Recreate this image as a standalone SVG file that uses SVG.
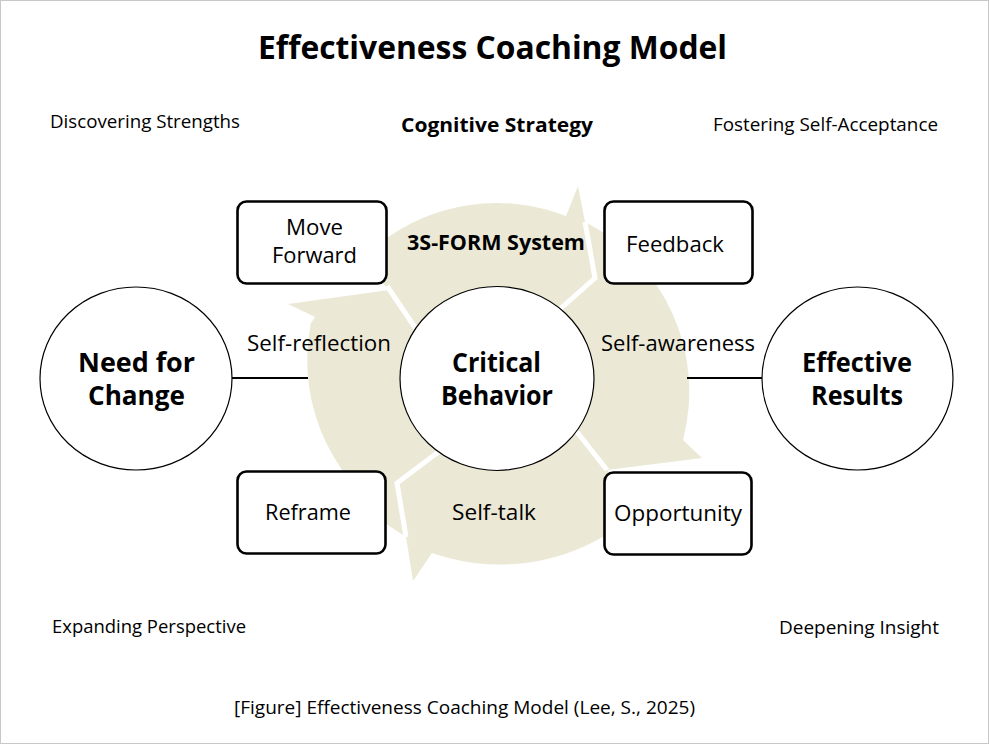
<svg xmlns="http://www.w3.org/2000/svg" width="989" height="744" viewBox="0 0 989 744">
<style>
text{font-family:"Open Sans","Noto Sans","DejaVu Sans",sans-serif;fill:#000}
.t{font-size:18px}
.b{font-weight:bold}
.box{fill:#fff;stroke:#000;stroke-width:2.6}
.nd{fill:#fff;stroke:#000;stroke-width:1.2}
.lbl{font-size:21px}
.big{font-size:26px;font-weight:bold}
.gap{fill:none;stroke:#fff;stroke-width:5;stroke-linejoin:miter}
.con{stroke:#000;stroke-width:2}
</style>
<rect x="0.5" y="0.5" width="988" height="743" fill="#fff" stroke="#c8c8c8" stroke-width="1"/>
<text x="492.5" y="59" font-size="32" class="b" text-anchor="middle" textLength="469" lengthAdjust="spacingAndGlyphs">Effectiveness Coaching Model</text>
<text x="50" y="128" class="t" textLength="190" lengthAdjust="spacingAndGlyphs">Discovering Strengths</text>
<text x="401" y="132" font-size="20" class="b" textLength="192" lengthAdjust="spacingAndGlyphs">Cognitive Strategy</text>
<text x="713" y="131" class="t" textLength="225" lengthAdjust="spacingAndGlyphs">Fostering Self-Acceptance</text>
<text x="52" y="633" class="t" textLength="194" lengthAdjust="spacingAndGlyphs">Expanding Perspective</text>
<text x="779" y="634" class="t" textLength="160" lengthAdjust="spacingAndGlyphs">Deepening Insight</text>
<text x="234" y="714" class="t" textLength="461" lengthAdjust="spacingAndGlyphs">[Figure] Effectiveness Coaching Model (Lee, S., 2025)</text>
<g id="cycle">
<path fill="#EBE9D6" d="M380,243 A190,190 0 0 1 566,216 L578,186 L585,222 A190,190 0 0 1 683,440 L702,458 L607,470 L640,500 L606,535 A205,205 0 0 1 432,553 L413,581 L406,537 L380,520 L354,485 A190,190 0 0 1 311,323 L315,317 L288,304 L389,290 L380,280 Z"/>
<path class="gap" d="M387,286 L414,326 L432,352"/>
<path class="gap" d="M585,222 L595,278 L560,309 L540,327"/>
<path class="gap" d="M607,470 L577,432 L560,412"/>
<path class="gap" d="M406,537 L397,483 L437,453 L455,440"/>
</g>
<g id="connectors">
<line class="con" x1="232" y1="378" x2="308" y2="378"/>
<line class="con" x1="687" y1="378" x2="762" y2="378"/>
</g>
<g id="node-need">
<ellipse class="nd" cx="136" cy="378.5" rx="96" ry="91.5"/>
<text class="big" x="136.5" y="372" text-anchor="middle" textLength="117" lengthAdjust="spacingAndGlyphs">Need for</text>
<text class="big" x="136.5" y="405" text-anchor="middle" textLength="97" lengthAdjust="spacingAndGlyphs">Change</text>
</g>
<g id="node-critical">
<ellipse class="nd" cx="497" cy="378.5" rx="97" ry="92"/>
<text class="big" x="496.5" y="372" text-anchor="middle" textLength="89" lengthAdjust="spacingAndGlyphs">Critical</text>
<text class="big" x="497" y="405" text-anchor="middle" textLength="112" lengthAdjust="spacingAndGlyphs">Behavior</text>
</g>
<g id="node-effective">
<ellipse class="nd" cx="857.5" cy="378.5" rx="95.5" ry="91.5"/>
<text class="big" x="857" y="372" text-anchor="middle" textLength="110" lengthAdjust="spacingAndGlyphs">Effective</text>
<text class="big" x="857" y="405" text-anchor="middle" textLength="92" lengthAdjust="spacingAndGlyphs">Results</text>
</g>
<g id="node-move-forward">
<rect class="box" x="237.5" y="201.5" width="149" height="82" rx="9"/>
<text class="lbl" x="314.5" y="235" text-anchor="middle" textLength="57" lengthAdjust="spacingAndGlyphs">Move</text>
<text class="lbl" x="314.5" y="263" text-anchor="middle" textLength="85" lengthAdjust="spacingAndGlyphs">Forward</text>
</g>
<g id="node-feedback">
<rect class="box" x="604.5" y="201.5" width="148" height="82" rx="9"/>
<text class="lbl" x="675" y="252" text-anchor="middle" textLength="98" lengthAdjust="spacingAndGlyphs">Feedback</text>
</g>
<g id="node-reframe">
<rect class="box" x="237.5" y="471.5" width="148" height="82" rx="9"/>
<text class="lbl" x="308" y="520" text-anchor="middle" textLength="86" lengthAdjust="spacingAndGlyphs">Reframe</text>
</g>
<g id="node-opportunity">
<rect class="box" x="604.5" y="472.5" width="147" height="82" rx="9"/>
<text class="lbl" x="678" y="521" text-anchor="middle" textLength="128" lengthAdjust="spacingAndGlyphs">Opportunity</text>
</g>
<g id="labels">
<text x="407" y="250" font-size="21" class="b" textLength="178" lengthAdjust="spacingAndGlyphs">3S-FORM System</text>
<text class="lbl" x="247" y="351" textLength="144" lengthAdjust="spacingAndGlyphs">Self-reflection</text>
<text class="lbl" x="601" y="351" textLength="154" lengthAdjust="spacingAndGlyphs">Self-awareness</text>
<text class="lbl" x="452" y="520" textLength="84" lengthAdjust="spacingAndGlyphs">Self-talk</text>
</g>
</svg>
